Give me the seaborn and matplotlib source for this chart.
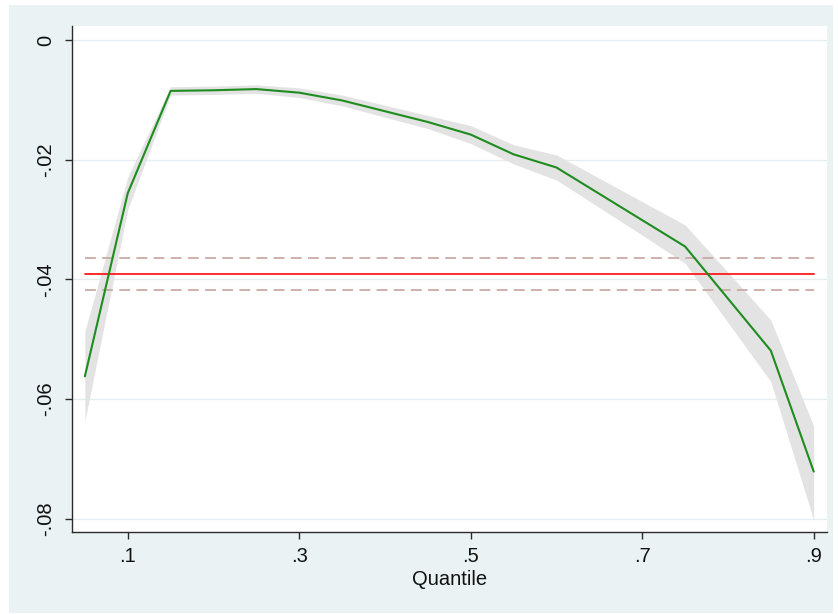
import numpy as np
import pandas as pd
import seaborn as sns
import matplotlib
matplotlib.use("Agg")
import matplotlib.pyplot as plt
from matplotlib.patches import Rectangle

# ---- data ----
quantiles = [0.05, 0.10, 0.15, 0.20, 0.25, 0.30, 0.35, 0.40, 0.45,
             0.50, 0.55, 0.60, 0.65, 0.70, 0.75, 0.80, 0.85, 0.90]
coef = [-0.0562, -0.0256, -0.0085, -0.0084, -0.0082, -0.0088, -0.0101, -0.0119, -0.0137,
        -0.0158, -0.0191, -0.0213, -0.0257, -0.0301, -0.0345, -0.0432, -0.0519, -0.0721]
ci_upper = [-0.0487, -0.0229, -0.0078, -0.0077, -0.0075, -0.0080, -0.0092, -0.0109, -0.0126,
            -0.0143, -0.0175, -0.0192, -0.0231, -0.0270, -0.0309, -0.0388, -0.0468, -0.0645]
ci_lower = [-0.0637, -0.0283, -0.0092, -0.0091, -0.0089, -0.0096, -0.0110, -0.0129, -0.0148,
            -0.0173, -0.0207, -0.0234, -0.0280, -0.0326, -0.0373, -0.0472, -0.0571, -0.0802]
ols_coef = -0.0391
ols_upper = -0.0364
ols_lower = -0.0417

x_ticks = [0.1, 0.3, 0.5, 0.7, 0.9]
x_ticklabels = [".1", ".3", ".5", ".7", ".9"]
y_ticks = [0.0, -0.02, -0.04, -0.06, -0.08]
y_ticklabels = ["0", "-.02", "-.04", "-.06", "-.08"]
x_label = "Quantile"

df = pd.DataFrame({"q": quantiles, "coef": coef, "lo": ci_lower, "hi": ci_upper,
                   "ols": [ols_coef] * len(quantiles),
                   "ols_hi": [ols_upper] * len(quantiles),
                   "ols_lo": [ols_lower] * len(quantiles)})

sns.set_theme(style="white")
plt.rcParams["font.family"] = ["Liberation Sans", "DejaVu Sans"]

W, H = 838, 614
fig = plt.figure(figsize=(W / 100, H / 100), dpi=100, facecolor="white")
bg = Rectangle((9 / W, 1 - 613 / H), (833 - 9) / W, (613 - 5) / H,
               transform=fig.transFigure, facecolor="#eaf2f3",
               edgecolor="none", zorder=-10)
fig.patches.append(bg)

ax = fig.add_axes([72 / W, 1 - 532 / H, (827 - 72) / W, (532 - 26) / H])
ax.set_zorder(5)
ax.set_facecolor("white")

ax.fill_between(df["q"], df["lo"], df["hi"], color="#e3e3e3", linewidth=0, zorder=2)
sns.lineplot(data=df, x="q", y="coef", color="#1e8c1e", linewidth=1.5, ax=ax, zorder=4)
sns.lineplot(data=df, x="q", y="ols", color="#ff1a1a", linewidth=1.3, ax=ax, zorder=3)
for col in ["ols_hi", "ols_lo"]:
    sns.lineplot(data=df, x="q", y=col, color="#c9aaa3", linewidth=1.3, ax=ax, zorder=3,
                 linestyle=(0, (6, 3.5)))

ax.set_xlim(0.035, 0.9155)
ax.set_ylim(-0.0822, 0.00234)

ax.set_yticks(y_ticks)
ax.set_yticklabels(y_ticklabels, rotation=90, va="center")
ax.set_xticks(x_ticks)
ax.set_xticklabels(x_ticklabels)

ax.yaxis.grid(True, color="#e4edf0", linewidth=1.0, zorder=1)
ax.xaxis.grid(False)
ax.set_axisbelow(True)

for s in ["top", "right"]:
    ax.spines[s].set_visible(False)
for s in ["left", "bottom"]:
    ax.spines[s].set_color("#2b2b2b")
    ax.spines[s].set_linewidth(1.0)

ax.tick_params(axis="both", which="major", direction="out", length=5, width=1.0,
               color="#2b2b2b", labelsize=14.5, labelcolor="#111111",
               left=True, bottom=True)
ax.tick_params(axis="y", pad=7)
ax.tick_params(axis="x", pad=6)

ax.set_xlabel(x_label, fontsize=14.5, color="#111111", labelpad=3)
ax.set_ylabel("")

fig.savefig("out.png", dpi=100, facecolor="white")
